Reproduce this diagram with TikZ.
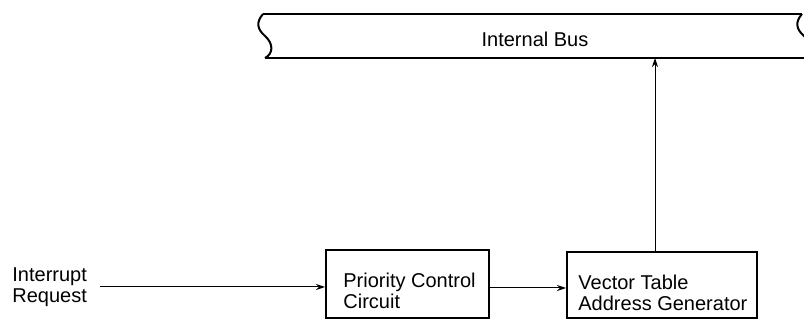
\documentclass[tikz,border=0pt]{standalone}
\usepackage{fontspec}
\setmainfont{Liberation Sans}
\usetikzlibrary{arrows.meta}
\begin{document}
\begin{tikzpicture}[x=0.5pt,y=-0.5pt,
  box/.style={draw, line width=1pt, rectangle, inner sep=0pt},
  txt/.style={inner sep=0pt, align=left, font=\fontsize{10}{10.5}\selectfont},
  arr/.style={line width=0.5pt, -{Stealth[length=4.5pt,width=3pt]}},
  busline/.style={line width=1pt}]
\useasboundingbox (0,0) rectangle (804,320);
% bus
\begin{scope}
\clip (0,0) rectangle (804,320);
\draw[busline] (263,14) -- (802,14);
\draw[busline] (265,58) -- (810,58);
\draw[busline] (263,14) .. controls (256,22) and (257,29) .. (265,36)
  .. controls (274,44) and (273,54) .. (265,58);
\draw[busline] (802,14) .. controls (795,22) and (796,29) .. (804,36)
  .. controls (813,44) and (812,54) .. (804,58);
\end{scope}
\node[txt, anchor=base] (bus) at (535,47) {Internal Bus};
\coordinate (busbot) at (655,58);
% boxes
\node[box, minimum width=81.5pt, minimum height=34pt] (pcc) at (407.5,284) {};
\node[box, minimum width=95pt, minimum height=33pt] (vtag) at (662,285) {};
\node[txt, anchor=north west] (pcct) at (343,272.7) {Priority Control\\Circuit};
\node[txt, anchor=north west] (vtagt) at (578,274.7) {Vector Table\\Address Generator};
\node[txt, anchor=north west] (irqt) at (12,267.7) {Interrupt\\Request};
% connectors
\coordinate (irq) at (100,287);
\draw[arr] (irq) -- (irq -| pcc.west);
\coordinate (mid) at (489,288);
\draw[arr] (mid) -- (mid -| vtag.west);
\draw[arr] (vtag.north -| busbot) -- (busbot);
\end{tikzpicture}
\end{document}
